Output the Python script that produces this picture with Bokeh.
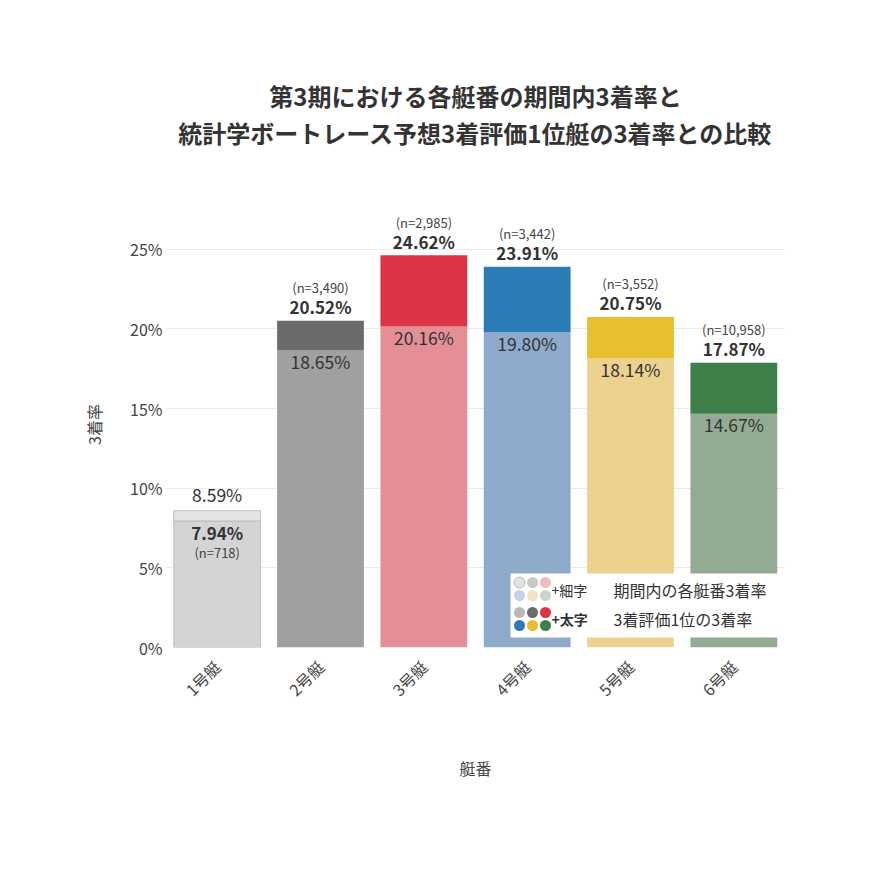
import math
from bokeh.plotting import figure
from bokeh.models import ColumnDataSource, FixedTicker, Title, PrintfTickFormatter, Range1d
from bokeh.core.properties import value
from bokeh.embed import file_html
from bokeh.resources import INLINE

# ---------------- data ----------------
boats = ["1号艇", "2号艇", "3号艇", "4号艇", "5号艇", "6号艇"]
period_rate = [8.59, 18.65, 20.16, 19.80, 18.14, 14.67]   # 期間内の各艇番3着率 (細字)
top1_rate = [7.94, 20.52, 24.62, 23.91, 20.75, 17.87]     # 3着評価1位の3着率 (太字)
n_counts = [718, 3490, 2985, 3442, 3552, 10958]
lower_colors = ["#d4d4d4", "#a0a0a0", "#e48f96", "#8eaacb", "#edd18e", "#93ab93"]
upper_colors = ["#e4e4e4", "#6b6b6b", "#dc3545", "#2c7bb6", "#e8bf30", "#3e7f4a"]
legend_thin_colors = ["#e2e2e2", "#c8c8c8", "#f0bcc1", "#c4d2e4", "#f2e4c0", "#c9d6c9"]
legend_bold_colors = ["#b8b8b8", "#6b6b6b", "#dc3545", "#2c7bb6", "#e8bf30", "#3e7f4a"]
y_ticks = [0, 5, 10, 15, 20, 25]

title_lines = ["第3期における各艇番の期間内3着率と", "統計学ボートレース予想3着評価1位艇の3着率との比較"]
x_label = "艇番"
y_label = "3着率"
legend_thin_tag = "+細字"
legend_bold_tag = "+太字"
legend_thin_text = "期間内の各艇番3着率"
legend_bold_text = "3着評価1位の3着率"

FONT = "Noto Sans CJK JP"
TXT = "#333333"

# ---------------- figure ----------------
W, H = 854, 854
ML, MR, MT, MB = 165, 69, 201, 207
FW, FH = W - ML - MR, H - MT - MB
p = figure(width=W, height=H, output_backend="svg", toolbar_location=None,
           x_range=Range1d(-0.5, len(boats) - 0.5), y_range=Range1d(0, 28),
           min_border_left=ML, min_border_right=MR, min_border_top=MT, min_border_bottom=MB)
p.outline_line_color = None
p.background_fill_color = "white"
p.border_fill_color = "white"
p.xgrid.grid_line_color = None
p.ygrid.grid_line_color = "#ebebeb"
p.ygrid.ticker = FixedTicker(ticks=y_ticks)

# title: white (invisible) spacer next to the frame, then the two lines stacked outward
p.add_layout(Title(text=".", text_font_size="10px", text_color="white", standoff=42), "above")
p.add_layout(Title(text=title_lines[1], align="center", text_font=FONT, text_font_size="24px",
                   text_font_style="bold", text_color=TXT, standoff=0), "above")
p.add_layout(Title(text=title_lines[0], align="center", text_font=FONT, text_font_size="24px",
                   text_font_style="bold", text_color=TXT, standoff=0), "above")

# axes
p.yaxis.ticker = FixedTicker(ticks=y_ticks)
p.yaxis.formatter = PrintfTickFormatter(format="%d%%")
p.yaxis.axis_line_color = None
p.yaxis.major_tick_line_color = None
p.yaxis.minor_tick_line_color = None
p.yaxis.major_tick_out = 0
p.yaxis.major_label_text_font = FONT
p.yaxis.major_label_text_font_size = "16px"
p.yaxis.major_label_text_color = "#444444"
p.yaxis.major_label_standoff = 3
p.yaxis.axis_label = y_label
p.yaxis.axis_label_text_font = FONT
p.yaxis.axis_label_text_font_size = "16px"
p.yaxis.axis_label_text_font_style = "normal"
p.yaxis.axis_label_text_color = "#444444"
p.yaxis.axis_label_standoff = 21

xs = list(range(len(boats)))
p.xaxis.ticker = FixedTicker(ticks=xs)
p.xaxis.major_label_overrides = {i: b for i, b in zip(xs, boats)}
p.xaxis.major_label_orientation = math.pi / 4
p.xaxis.axis_line_color = None
p.xaxis.major_tick_line_color = None
p.xaxis.minor_tick_line_color = None
p.xaxis.major_label_text_font = FONT
p.xaxis.major_label_text_font_size = "16px"
p.xaxis.major_label_text_color = "#444444"
p.xaxis.major_label_standoff = 10
p.xaxis.axis_label = x_label
p.xaxis.axis_label_text_font = FONT
p.xaxis.axis_label_text_font_size = "16px"
p.xaxis.axis_label_text_font_style = "normal"
p.xaxis.axis_label_text_color = "#444444"
p.xaxis.axis_label_standoff = 44

# ---------------- bars ----------------
lows = [min(a, b) for a, b in zip(period_rate, top1_rate)]
highs = [max(a, b) for a, b in zip(period_rate, top1_rate)]
outline = ["#bdbdbd" if t < pr else None for pr, t in zip(period_rate, top1_rate)]
src = ColumnDataSource(dict(x=xs, low=lows, high=highs, lc=lower_colors, uc=upper_colors, ol=outline))
BW = 0.84
p.vbar(x="x", width=BW, bottom=0, top="low", fill_color="lc", line_color="ol", line_width=1, source=src)
p.vbar(x="x", width=BW, bottom="low", top="high", fill_color="uc", line_color="ol", line_width=1, source=src)

# ---------------- labels ----------------
bold_y, bold_off, thin_y, thin_off, n_y, n_off = [], [], [], [], [], []
for pr, t in zip(period_rate, top1_rate):
    if t >= pr:
        bold_y.append(t); bold_off.append(-14)
        n_y.append(t); n_off.append(-33)
        thin_y.append(pr); thin_off.append(11)
    else:
        thin_y.append(pr); thin_off.append(-16)
        bold_y.append(t); bold_off.append(11)
        n_y.append(t); n_off.append(31)
lab = ColumnDataSource(dict(
    x=xs,
    bold_txt=[f"{v:.2f}%" for v in top1_rate], bold_y=bold_y, bold_off=bold_off,
    thin_txt=[f"{v:.2f}%" for v in period_rate], thin_y=thin_y, thin_off=thin_off,
    n_txt=[f"(n={n:,})" for n in n_counts], n_y=n_y, n_off=n_off,
))
p.text(x="x", y="bold_y", text="bold_txt", y_offset="bold_off", source=lab,
       text_font=value(FONT), text_font_size="17px", text_font_style="bold",
       text_color=TXT, text_align="center", text_baseline="middle")
p.text(x="x", y="thin_y", text="thin_txt", y_offset="thin_off", source=lab,
       text_font=value(FONT), text_font_size="17.5px", text_color=TXT,
       text_align="center", text_baseline="middle")
p.text(x="x", y="n_y", text="n_txt", y_offset="n_off", source=lab,
       text_font=value(FONT), text_font_size="13px", text_color="#444444",
       text_align="center", text_baseline="middle")

# ---------------- custom legend (positioned in data units, bottom right of the plot) ----------------
PXX = FW / len(boats)   # px per x unit
PXY = FH / 28           # px per y unit
def lx(px):  # pixel offset from frame left -> data x
    return -0.5 + px / PXX
def ly(px):  # pixel offset from frame bottom -> data y
    return px / PXY

p.quad(left=[lx(345)], right=[lx(620)], bottom=[ly(10)], top=[ly(74)],
       fill_color="white", line_color=None)
dot_dx = [354, 367, 380, 354, 367, 380]
dot_dy_thin = [65, 65, 65, 52, 52, 52]
dot_dy_bold = [35, 35, 35, 22, 22, 22]
p.scatter(x=[lx(v) for v in dot_dx], y=[ly(v) for v in dot_dy_thin], size=11,
          fill_color=legend_thin_colors, line_color=["#aaaaaa"] + [None] * 5, line_width=0.8)
p.scatter(x=[lx(v) for v in dot_dx], y=[ly(v) for v in dot_dy_bold], size=11,
          fill_color=legend_bold_colors, line_color=None)
p.text(x=[lx(386)], y=[ly(58)], text=[legend_thin_tag], text_font=value(FONT), text_font_size="14px",
       text_color=TXT, text_align="left", text_baseline="middle")
p.text(x=[lx(386)], y=[ly(29)], text=[legend_bold_tag], text_font=value(FONT), text_font_size="14px",
       text_font_style="bold", text_color=TXT, text_align="left", text_baseline="middle")
p.text(x=[lx(448)], y=[ly(58)], text=[legend_thin_text], text_font=value(FONT), text_font_size="16px",
       text_color=TXT, text_align="left", text_baseline="middle")
p.text(x=[lx(448)], y=[ly(29)], text=[legend_bold_text], text_font=value(FONT), text_font_size="16px",
       text_color=TXT, text_align="left", text_baseline="middle")

open("out.html", "w").write(file_html(p, INLINE))
